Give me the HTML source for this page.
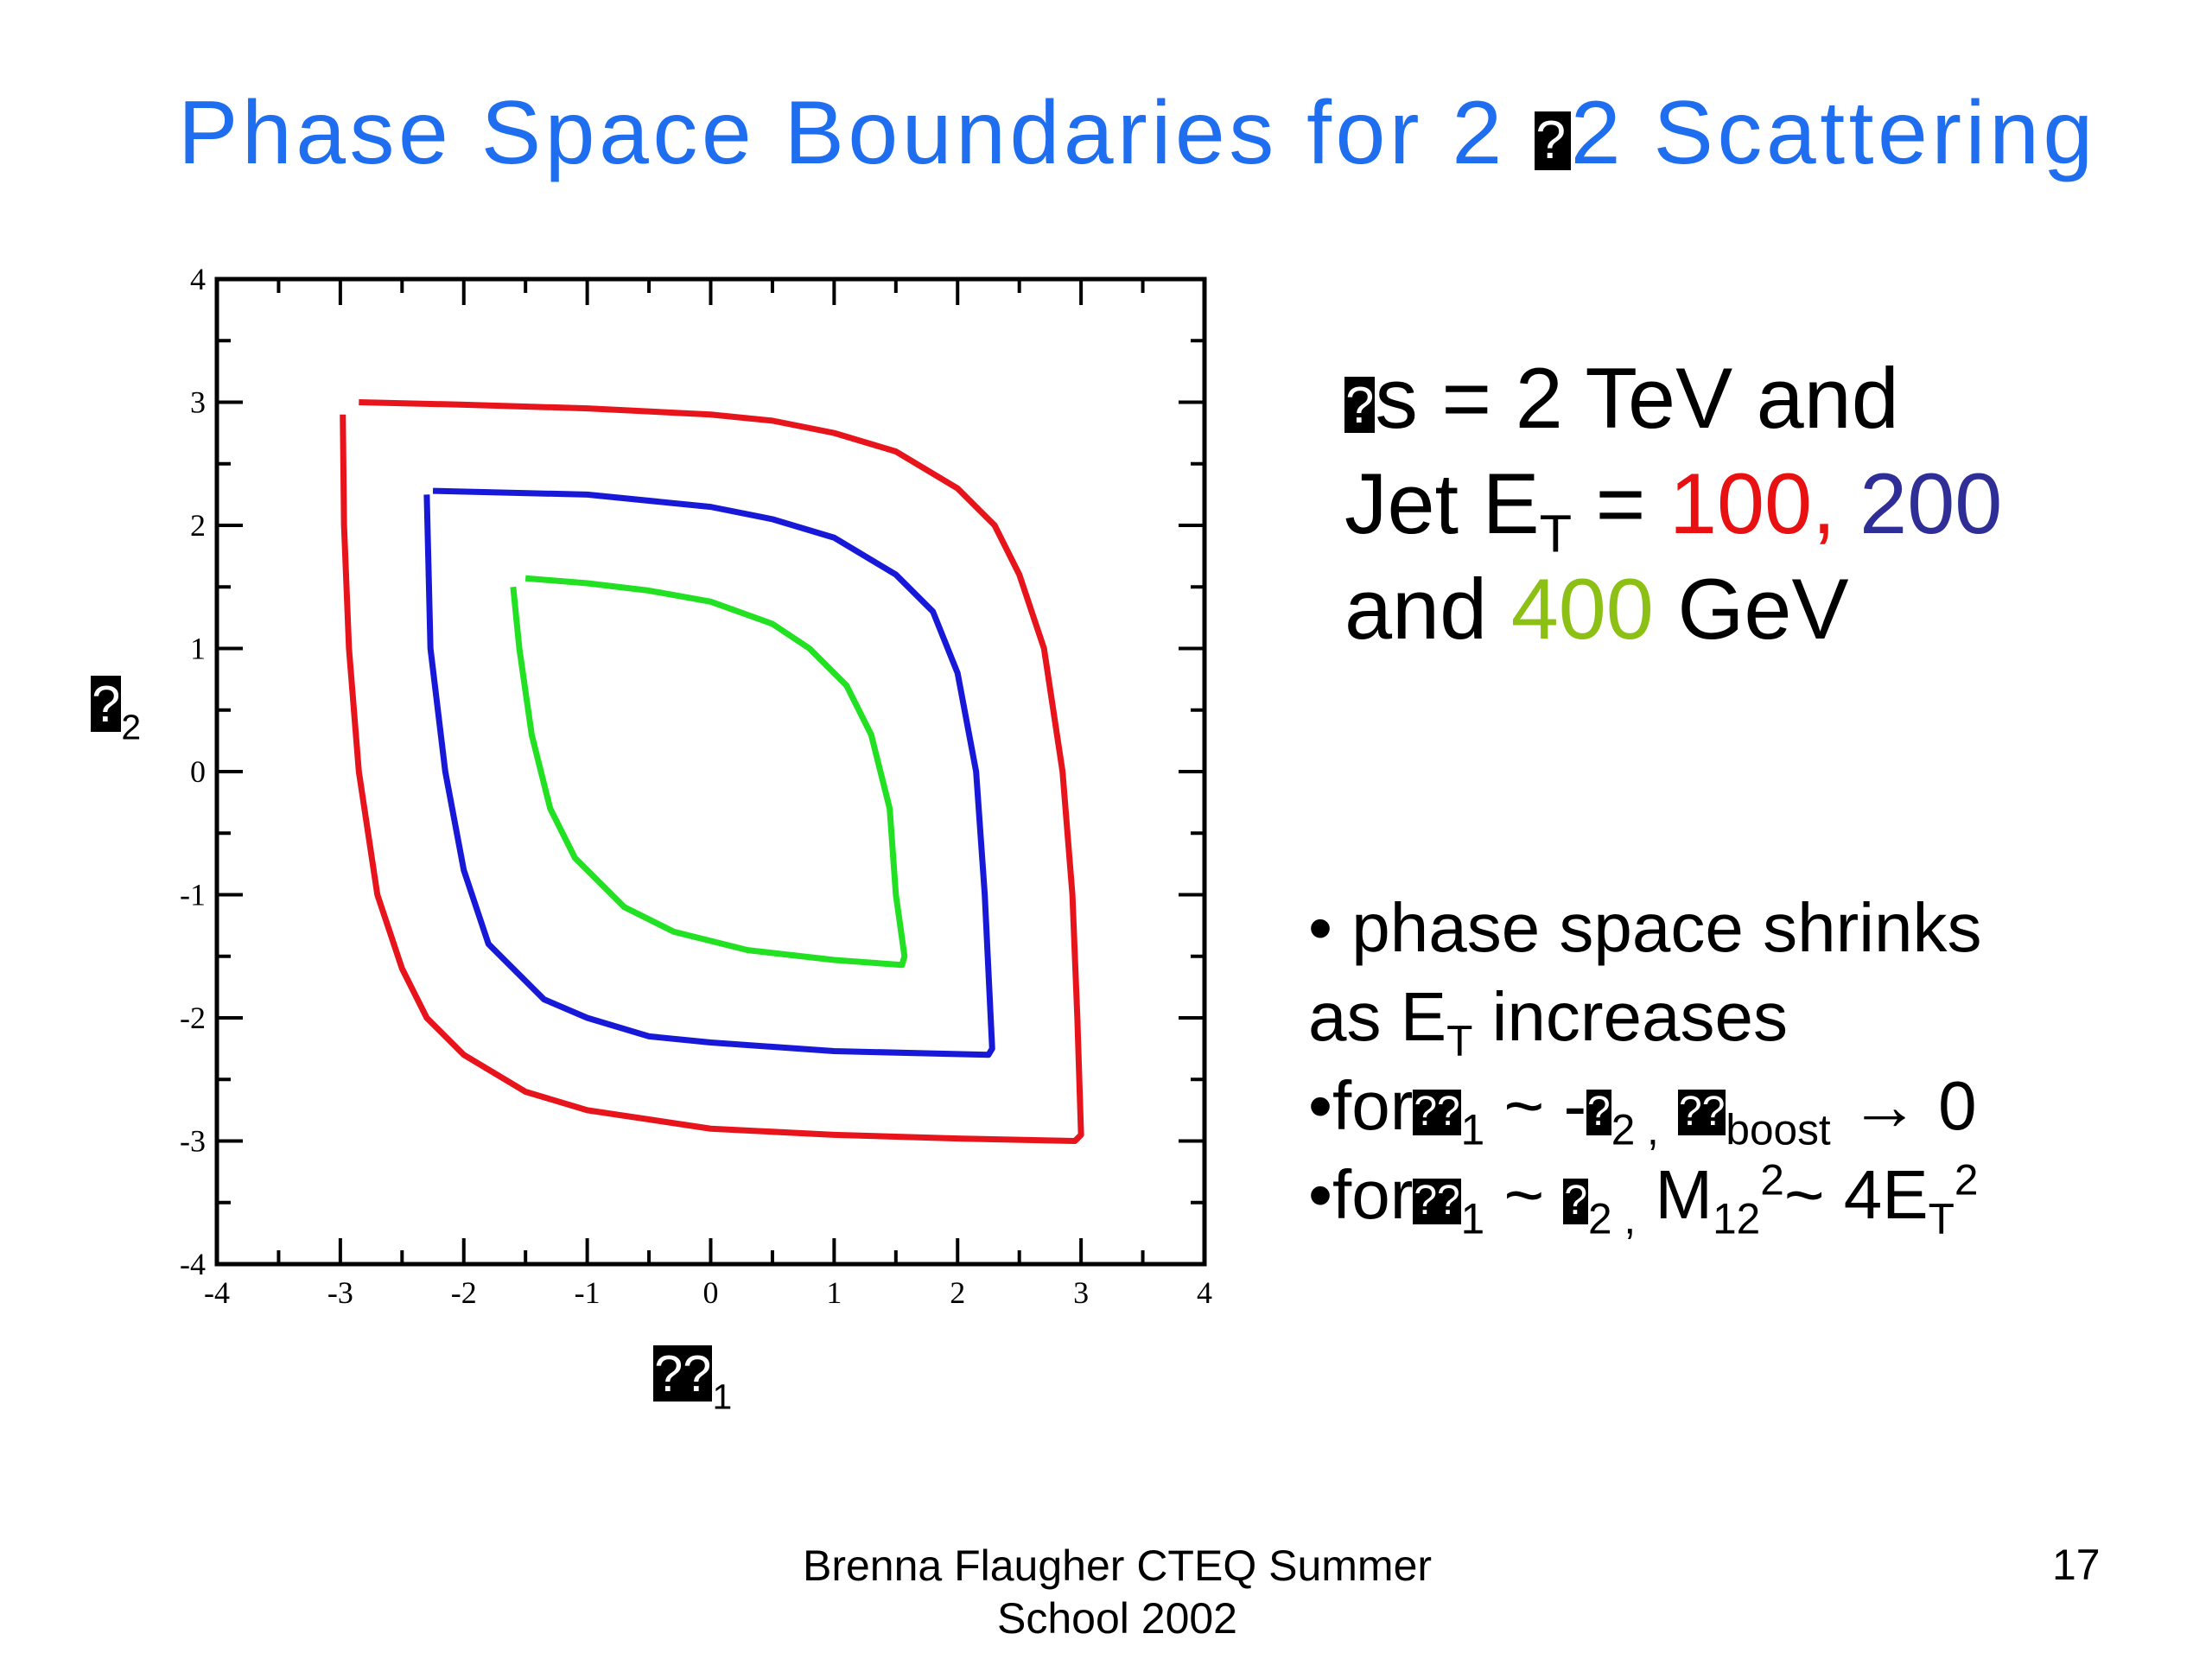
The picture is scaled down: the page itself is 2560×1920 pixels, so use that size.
<!DOCTYPE html>
<html><head><meta charset="utf-8"><style>
body{margin:0;width:2560px;height:1920px;background:#fff;position:relative;overflow:hidden;font-family:"Liberation Sans",sans-serif}
.t{position:absolute;white-space:nowrap}
.bx{display:inline-block;background:#000;color:#fff;font-size:0.6em;line-height:1;padding:0.05em 0.02em;vertical-align:0.1em}
sub{font-size:0.62em;vertical-align:-0.35em;line-height:0}
sup{font-size:0.62em;vertical-align:0.55em;line-height:0}
</style></head><body>
<div class="t" style="left:206px;top:95px;font-size:104px;letter-spacing:4.5px;color:#1f6ef0">Phase Space Boundaries for 2 <span class="bx">?</span>2 Scattering</div>
<svg id="chart" width="2560" height="1920" style="position:absolute;left:0;top:0"></svg>
<div class="t" style="left:105px;top:780px;font-size:66px"><span class="bx" style="font-size:0.9em">?</span><sub>2</sub></div>
<div class="t" style="left:756px;top:1555px;font-size:66px"><span class="bx" style="font-size:0.9em">??</span><sub>1</sub></div>
<div class="t" style="left:1556px;top:400px;font-size:99px;line-height:122px">
<div><span class="bx">?</span>s = 2 TeV and</div>
<div>Jet E<sub>T</sub> = <span style="color:#e81010">100,</span> <span style="color:#2e2e96">200</span></div>
<div>and <span style="color:#8cc014">400</span> GeV</div></div>
<div class="t" style="left:1514px;top:1022px;font-size:80px;line-height:103px">
<div>• phase space shrinks</div>
<div>as E<sub>T</sub> increases</div>
<div>•for<span class="bx">??</span><sub>1</sub> ~ -<span class="bx">?</span><sub>2 ,</sub> <span class="bx">??</span><sub>boost</sub> → 0</div>
<div>•for<span class="bx">??</span><sub>1</sub> ~ <span class="bx">?</span><sub>2 ,</sub> M<sub>12</sub><sup>2</sup>~ 4E<sub>T</sub><sup>2</sup></div></div>
<div class="t" style="left:1293px;top:1782px;transform:translateX(-50%);font-size:50px;text-align:center;line-height:61px">Brenna Flaugher CTEQ Summer<br>School 2002</div>
<div class="t" style="left:2375px;top:1782px;font-size:50px">17</div>
<script>
const xTicks=[-4,-3,-2,-1,0,1,2,3,4];
const yTicks=[-4,-3,-2,-1,0,1,2,3,4];
const redX=[-2.98,-2.97,-2.93,-2.85,-2.7,-2.5,-2.3,-2.0,-1.5,-1,0,1,2,2.95,3.0,2.97,2.93,2.85,2.7,2.5,2.3,2.0,1.5,1,0.5,0,-1,-2,-2.85];
const redY=[2.9,2,1,0,-1,-1.6,-2.0,-2.3,-2.6,-2.75,-2.9,-2.95,-2.98,-3.0,-2.95,-2,-1,0,1,1.6,2.0,2.3,2.6,2.75,2.85,2.9,2.95,2.98,3.0];
const blueX=[-2.3,-2.27,-2.15,-2.0,-1.8,-1.35,-1,-0.5,0,1,2.25,2.28,2.22,2.15,2.0,1.8,1.5,1,0.5,0,-1,-2.25];
const blueY=[2.25,1,0,-0.8,-1.4,-1.85,-2.0,-2.15,-2.2,-2.27,-2.3,-2.25,-1,0,0.8,1.3,1.6,1.9,2.05,2.15,2.25,2.28];
const greenX=[-1.6,-1.55,-1.45,-1.3,-1.1,-0.7,-0.3,0.3,1,1.55,1.57,1.5,1.45,1.3,1.1,0.8,0.5,0,-0.5,-1,-1.5];
const greenY=[1.5,1,0.3,-0.3,-0.7,-1.1,-1.3,-1.45,-1.53,-1.57,-1.5,-1,-0.3,0.3,0.7,1.0,1.2,1.38,1.47,1.53,1.57];
const L=251,R=1394,T=323,B=1463;
const sx=v=>L+(v+4)/8*(R-L), sy=v=>B-(v+4)/8*(B-T);
const svg=document.getElementById('chart'),NS='http://www.w3.org/2000/svg';
function mk(tag,at){const e=document.createElementNS(NS,tag);for(const k in at)e.setAttribute(k,at[k]);svg.appendChild(e);return e;}
const fr=mk('rect',{x:L,y:T,width:R-L,height:B-T,fill:'none',stroke:'#000','stroke-width':5});


for(let v=-4;v<=4;v+=0.5){const len=(v%1===0)?30:16;
 const x=sx(v),y=sy(v);
 [[x,B,x,B-len],[x,T,x,T+len],[L,y,L+len,y],[R,y,R-len,y]].forEach(c=>{const l=mk('line',{x1:c[0],y1:c[1],x2:c[2],y2:c[3],stroke:'#000','stroke-width':4});
 
 });}
xTicks.forEach(v=>{const t=mk('text',{x:sx(v),y:1508,'font-size':36,'font-family':'Liberation Serif, serif','text-anchor':'middle'});t.textContent=v;
 
 });
yTicks.forEach(v=>{const t=mk('text',{x:238,y:sy(v)+12,'font-size':36,'font-family':'Liberation Serif, serif','text-anchor':'end'});t.textContent=v;
 
 });
function curve(xs,ys,col,name){const p=mk('polyline',{points:xs.map((x,i)=>sx(x)+','+sy(ys[i])).join(' '),fill:'none',stroke:col,'stroke-width':7,'stroke-linejoin':'round'});
 
 }
curve(redX,redY,'#e8141c','boundary-et-100');
curve(blueX,blueY,'#1818d8','boundary-et-200');
curve(greenX,greenY,'#22e022','boundary-et-400');
</script>
</body></html>
